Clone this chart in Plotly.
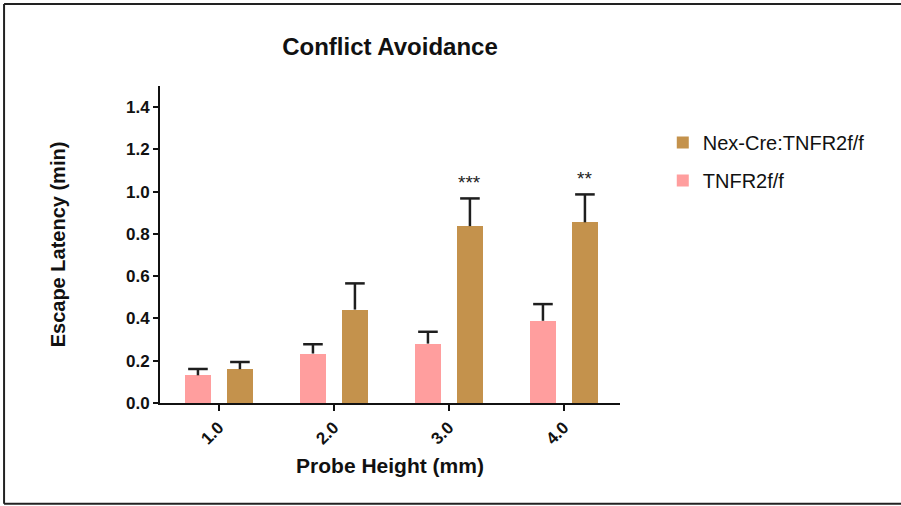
import plotly.graph_objects as go

categories = [1, 2, 3, 4]
tick_labels = ["1.0", "2.0", "3.0", "4.0"]
wt_name = "TNFR2f/f"
ko_name = "Nex-Cre:TNFR2f/f"
wt_mean = [0.131, 0.234, 0.281, 0.389]
wt_upper = [0.161, 0.278, 0.337, 0.468]
ko_mean = [0.160, 0.442, 0.837, 0.855]
ko_upper = [0.194, 0.566, 0.968, 0.987]
sig_labels = ["", "", "***", "**"]

WT_COLOR = "#FF9E9E"
KO_COLOR = "#C4924C"
ERR_COLOR = "#1E1E1E"
FONT = "Liberation Sans, Arial, sans-serif"

BAR_W = 0.22
WT_OFF = -0.29
KO_OFF = 0.075

fig = go.Figure()
fig.add_trace(go.Bar(x=categories, y=wt_mean, width=BAR_W, offset=WT_OFF,
                     marker=dict(color=WT_COLOR, line=dict(width=0)),
                     name=wt_name, legendgroup="wt", legendrank=2))
fig.add_trace(go.Bar(x=categories, y=ko_mean, width=BAR_W, offset=KO_OFF,
                     marker=dict(color=KO_COLOR, line=dict(width=0)),
                     name=ko_name, legendgroup="ko", legendrank=1))


def err_traces(means, uppers, off):
    xs, ys = [], []
    centers = [c + off + BAR_W / 2 for c in categories]
    for xc, m, u in zip(centers, means, uppers):
        xs += [xc, xc, None]
        ys += [m, u, None]
    fig.add_trace(go.Scatter(x=xs, y=ys, mode="lines", showlegend=False,
                             line=dict(color=ERR_COLOR, width=2.5), hoverinfo="skip"))
    fig.add_trace(go.Scatter(x=centers, y=uppers, mode="markers", showlegend=False,
                             marker=dict(symbol="line-ew", size=14,
                                         line=dict(color=ERR_COLOR, width=2.5)),
                             hoverinfo="skip"))
    return centers


err_traces(wt_mean, wt_upper, WT_OFF)
ko_centers = err_traces(ko_mean, ko_upper, KO_OFF)

for xc, u, s in zip(ko_centers, ko_upper, sig_labels):
    if s:
        fig.add_annotation(x=xc, y=u, text=s, showarrow=False, yanchor="bottom",
                           yshift=3, font=dict(family=FONT, size=19, color="#222"))

# outer frame lines (top, left, bottom)
frame = dict(color="#222", width=2)
fig.add_shape(type="line", xref="paper", yref="paper", x0=-0.339, x1=1.7, y0=1.259, y1=1.259, line=frame)
fig.add_shape(type="line", xref="paper", yref="paper", x0=-0.339, x1=-0.339, y0=1.259, y1=-0.318, line=frame)
fig.add_shape(type="line", xref="paper", yref="paper", x0=-0.339, x1=1.7, y0=-0.318, y1=-0.318, line=frame)

fig.update_layout(
    width=901, height=506,
    margin=dict(l=160, r=281, t=86, b=103),
    paper_bgcolor="white", plot_bgcolor="white",
    font=dict(family=FONT, color="#222"),
    title=dict(text="<b>Conflict Avoidance</b>", x=390 / 901, xanchor="center",
               y=1 - 47 / 506, yanchor="middle", font=dict(size=24, color="#111")),
    showlegend=True,
    legend=dict(x=1.093, y=0.883, xanchor="left", yanchor="top",
                font=dict(size=20, color="#111"), tracegroupgap=9,
                traceorder="grouped", bgcolor="rgba(0,0,0,0)"),
    bargap=0,
)
fig.update_xaxes(range=[0.49, 4.49], tickvals=categories, ticktext=tick_labels,
                 tickangle=-45, showgrid=False, zeroline=False,
                 showline=True, linecolor="#111", linewidth=2,
                 ticks="outside", ticklen=6, tickwidth=2, tickcolor="#111",
                 tickfont=dict(size=17, color="#111", family=FONT, weight="bold"),
                 title=dict(text="<b>Probe Height (mm)</b>", font=dict(size=21, color="#111"),
                            standoff=11))
fig.update_yaxes(range=[0, 1.5], tickvals=[0, 0.2, 0.4, 0.6, 0.8, 1.0, 1.2, 1.4],
                 ticktext=["0.0", "0.2", "0.4", "0.6", "0.8", "1.0", "1.2", "1.4"],
                 showgrid=False, zeroline=False,
                 showline=True, linecolor="#111", linewidth=2,
                 ticks="outside", ticklen=5, tickwidth=2, tickcolor="#111",
                 tickfont=dict(size=17, color="#111", family=FONT, weight="bold"),
                 title=dict(text="<b>Escape Latency (min)</b>", font=dict(size=20, color="#111"),
                            standoff=55))

fig.write_html("out.html", config={"displayModeBar": False},
               post_script="document.body.style.margin='0';")
